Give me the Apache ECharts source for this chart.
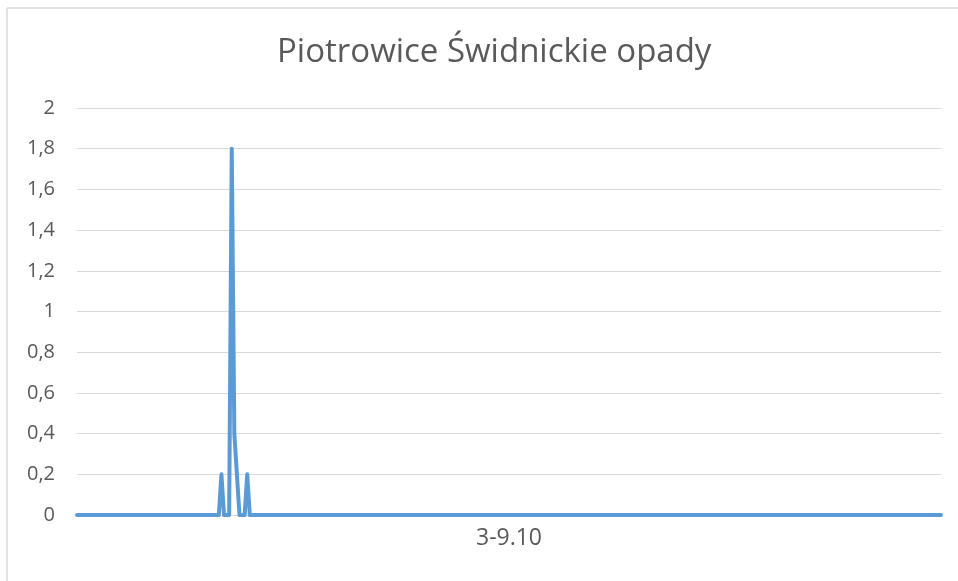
<!DOCTYPE html>
<html>
<head>
<meta charset="utf-8">
<script src="https://cdn.jsdelivr.net/npm/echarts@6/dist/echarts.min.js"></script>
<style>
  html, body { margin: 0; padding: 0; background: #fff; }
  #chart { width: 958px; height: 581px; }
</style>
</head>
<body>
<div id="chart"></div>
<script>
const chartTitle = 'Piotrowice Świdnickie opady'
const periodLabel = ['3-9.10']
const yTicks = { min: 0, max: 2, interval: 0.2 }

// opady co 30 min, 3.10 - 9.10 (7 dni x 48 pomiarów)
const rain = [
  0,0,0,0,0,0,0,0,0,0,0,0,0,0,0,0,0,0,0,0,0,0,0,0,0,0,0,0,0,0,0,0,0,0,0,0,0,0,0,0,0,0,0,0,0,0,0,0,
  0,0,0,0,0,0,0,0,0.2,0,0,0,1.8,0.4,0.2,0,0,0,0.2,0,0,0,0,0,0,0,0,0,0,0,0,0,0,0,0,0,0,0,0,0,0,0,0,0,0,0,0,0,
  0,0,0,0,0,0,0,0,0,0,0,0,0,0,0,0,0,0,0,0,0,0,0,0,0,0,0,0,0,0,0,0,0,0,0,0,0,0,0,0,0,0,0,0,0,0,0,0,
  0,0,0,0,0,0,0,0,0,0,0,0,0,0,0,0,0,0,0,0,0,0,0,0,0,0,0,0,0,0,0,0,0,0,0,0,0,0,0,0,0,0,0,0,0,0,0,0,
  0,0,0,0,0,0,0,0,0,0,0,0,0,0,0,0,0,0,0,0,0,0,0,0,0,0,0,0,0,0,0,0,0,0,0,0,0,0,0,0,0,0,0,0,0,0,0,0,
  0,0,0,0,0,0,0,0,0,0,0,0,0,0,0,0,0,0,0,0,0,0,0,0,0,0,0,0,0,0,0,0,0,0,0,0,0,0,0,0,0,0,0,0,0,0,0,0,
  0,0,0,0,0,0,0,0,0,0,0,0,0,0,0,0,0,0,0,0,0,0,0,0,0,0,0,0,0,0,0,0,0,0,0,0,0,0,0,0,0,0,0,0,0,0,0,0,
]

const textColor = '#595959'
const font = '"Open Sans", "Noto Sans", sans-serif'

const chart = echarts.init(document.getElementById('chart'))
chart.setOption({
  animation: false,
  title: {
    text: chartTitle,
    left: 272,
    top: 31,
    textStyle: { color: textColor, fontSize: 33, fontWeight: 'normal', fontFamily: font },
  },
  grid: { left: 77, right: 17, top: 108, bottom: 66 },
  xAxis: [
    {
      type: 'category',
      data: rain.map((_, i) => i),
      boundaryGap: false,
      axisLine: { show: false },
      axisTick: { show: false },
      axisLabel: { show: false },
    },
    {
      type: 'category',
      data: periodLabel,
      position: 'bottom',
      boundaryGap: true,
      axisLine: { show: false },
      axisTick: { show: false },
      axisLabel: { color: textColor, fontSize: 23, fontFamily: font, margin: 12 },
    },
  ],
  yAxis: {
    type: 'value',
    min: yTicks.min,
    max: yTicks.max,
    interval: yTicks.interval,
    axisLine: { show: false },
    axisTick: { show: false },
    axisLabel: {
      color: textColor,
      fontSize: 20,
      fontFamily: font,
      margin: 22,
      formatter: v => String(Math.round(v * 10) / 10).replace('.', ','),
    },
    splitLine: { lineStyle: { color: '#d9d9d9', width: 1 } },
  },
  series: [{
    type: 'line',
    data: rain,
    xAxisIndex: 0,
    showSymbol: false,
    lineStyle: { color: '#5b9bd5', width: 4, cap: 'round', join: 'round' },
  }],
  graphic: [
    { type: 'line', shape: { x1: 7, y1: 8, x2: 958, y2: 8 }, style: { stroke: '#d9d9d9', lineWidth: 1.5 } },
    { type: 'line', shape: { x1: 7, y1: 8, x2: 7, y2: 581 }, style: { stroke: '#d9d9d9', lineWidth: 1.5 } },
  ],
})
</script>
</body>
</html>
